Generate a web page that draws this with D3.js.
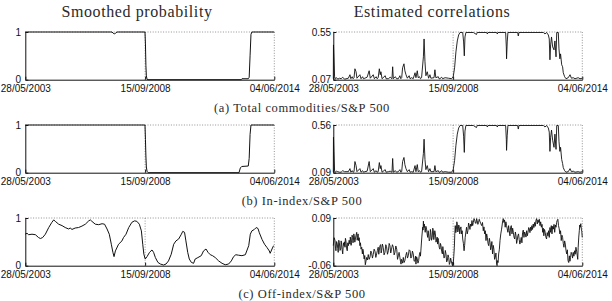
<!DOCTYPE html>
<html>
<head>
<meta charset="utf-8">
<script src="https://cdn.jsdelivr.net/npm/d3@7"></script>
<style>
  body { margin: 0; background: #fff; }
  svg { display: block; }
  .tick text { font-family: "Liberation Sans", Arial, sans-serif; font-size: 10px; fill: #111; }
  .serif { font-family: "Liberation Serif", "Times New Roman", serif; fill: #2a2a2a; }
</style>
</head>
<body>
<div id="chart"></div>
<script>
// ---- data ----
const DATE_TICKS = [2003.403, 2008.705, 2014.422];
const DATE_LABELS = ["28/05/2003", "15/09/2008", "04/06/2014"];

const COLUMN_TITLES = ["Smoothed probability", "Estimated correlations"];
const CAPTIONS = ["(a) Total commodities/S&P 500", "(b) In-index/S&P 500", "(c) Off-index/S&P 500"];

const PROB_TICKS = [0, 1];
const PROB_LABELS = ["0", "1"];
const CORR_TICKS_A = [0.07, 0.55];
const CORR_LABELS_A = ["0.07", "0.55"];
const CORR_TICKS_B = [0.09, 0.56];
const CORR_LABELS_B = ["0.09", "0.56"];
const CORR_TICKS_C = [-0.06, 0.09];
const CORR_LABELS_C = ["-0.06", "0.09"];

// [decimal year, value]
const PROB_TOTAL = [
  [2003.40,1],[2007.24,1],[2007.29,0.975],[2007.34,0.962],[2007.40,0.975],[2007.46,1],
  [2008.70,1],[2008.72,0.75],[2008.74,0.3],[2008.76,0.08],[2008.79,0.01],[2008.83,0],
  [2012.96,0],[2012.99,0.02],[2013.27,0.02],[2013.31,0.05],[2013.35,0.5],[2013.39,0.95],[2013.43,1],[2014.42,1]
];

const PROB_IN = [
  [2003.40,1],[2008.70,1],[2008.72,0.7],[2008.74,0.35],[2008.76,0.12],[2008.79,0.03],[2008.84,0],
  [2012.86,0],[2012.92,0.1],[2012.98,0.13],[2013.27,0.14],[2013.31,0.3],[2013.35,0.8],[2013.39,1],[2014.42,1]
];

const PROB_OFF = [
  [2003.40,0.66],[2003.48,0.68],[2003.55,0.65],[2003.70,0.66],[2003.85,0.65],[2003.99,0.59],[2004.07,0.57],
  [2004.17,0.59],[2004.29,0.66],[2004.44,0.80],[2004.58,0.91],[2004.66,0.96],[2004.73,0.93],[2004.88,0.87],
  [2005.03,0.84],[2005.17,0.80],[2005.32,0.77],[2005.39,0.79],[2005.47,0.76],[2005.61,0.79],[2005.76,0.80],
  [2005.91,0.83],[2006.06,0.87],[2006.21,0.94],[2006.28,0.96],[2006.35,0.93],[2006.50,0.87],[2006.65,0.86],
  [2006.80,0.88],[2006.91,0.87],[2007.02,0.77],[2007.12,0.66],[2007.21,0.45],[2007.28,0.28],[2007.33,0.19],
  [2007.39,0.31],[2007.53,0.45],[2007.68,0.52],[2007.75,0.59],[2007.86,0.66],[2007.98,0.80],[2008.12,0.91],
  [2008.24,0.94],[2008.34,0.93],[2008.45,0.87],[2008.54,0.73],[2008.60,0.45],[2008.65,0.24],[2008.71,0.14],
  [2008.79,0.19],[2008.90,0.28],[2009.01,0.33],[2009.08,0.28],[2009.16,0.17],[2009.27,0.07],[2009.38,0.035],
  [2009.52,0.015],[2009.63,0.035],[2009.74,0.10],[2009.86,0.24],[2009.97,0.45],[2010.07,0.52],[2010.19,0.56],
  [2010.31,0.66],[2010.37,0.72],[2010.45,0.70],[2010.51,0.52],[2010.59,0.28],[2010.66,0.14],[2010.75,0.07],
  [2010.85,0.05],[2010.92,0.14],[2011.04,0.17],[2011.19,0.21],[2011.29,0.31],[2011.40,0.35],[2011.49,0.28],
  [2011.59,0.23],[2011.69,0.21],[2011.81,0.17],[2011.96,0.10],[2012.11,0.05],[2012.25,0.02],[2012.40,0.035],
  [2012.52,0.10],[2012.62,0.19],[2012.72,0.23],[2012.84,0.22],[2012.99,0.21],[2013.14,0.23],[2013.29,0.42],
  [2013.36,0.66],[2013.43,0.73],[2013.54,0.76],[2013.62,0.80],[2013.70,0.78],[2013.76,0.69],[2013.88,0.55],
  [2013.99,0.45],[2014.10,0.38],[2014.20,0.31],[2014.24,0.26],[2014.32,0.35],[2014.39,0.42]
];

const CORR_TOTAL = [
  [2003.40,0.08],[2003.41,0.42],[2003.43,0.30],[2003.46,0.10],[2003.50,0.08],[2003.55,0.09],[2003.60,0.075],
  [2003.68,0.085],[2003.75,0.08],[2003.82,0.095],[2003.90,0.075],[2004.07,0.085],[2004.14,0.12],[2004.18,0.08],
  [2004.24,0.10],[2004.28,0.08],[2004.32,0.09],[2004.36,0.18],[2004.41,0.15],[2004.45,0.085],[2004.58,0.12],
  [2004.63,0.08],[2004.70,0.10],[2004.74,0.08],[2004.80,0.085],[2004.90,0.095],[2004.99,0.16],[2005.04,0.085],
  [2005.17,0.12],[2005.22,0.08],[2005.30,0.10],[2005.34,0.08],[2005.39,0.09],[2005.44,0.18],[2005.48,0.12],
  [2005.51,0.15],[2005.56,0.08],[2005.70,0.11],[2005.74,0.08],[2005.84,0.08],[2005.92,0.095],[2006.00,0.08],
  [2006.03,0.20],[2006.06,0.08],[2006.15,0.10],[2006.20,0.08],[2006.28,0.08],[2006.35,0.11],[2006.39,0.08],
  [2006.43,0.09],[2006.47,0.19],[2006.53,0.23],[2006.57,0.16],[2006.62,0.12],[2006.68,0.085],[2006.76,0.11],
  [2006.80,0.08],[2006.87,0.09],[2006.94,0.08],[2007.02,0.14],[2007.06,0.09],[2007.12,0.16],[2007.16,0.09],
  [2007.22,0.10],[2007.26,0.08],[2007.31,0.09],[2007.39,0.30],[2007.42,0.48],[2007.46,0.25],[2007.50,0.11],
  [2007.56,0.15],[2007.62,0.085],[2007.68,0.12],[2007.72,0.085],[2007.86,0.09],[2007.90,0.17],[2007.94,0.09],
  [2008.05,0.10],[2008.08,0.08],[2008.12,0.08],[2008.20,0.095],[2008.24,0.08],[2008.35,0.09],[2008.50,0.085],
  [2008.64,0.08],[2008.71,0.10],[2008.77,0.19],[2008.83,0.35],[2008.89,0.46],[2008.95,0.52],[2009.01,0.545],
  [2009.13,0.545],[2009.17,0.45],[2009.20,0.31],[2009.23,0.50],[2009.27,0.545],[2009.60,0.545],[2009.74,0.525],
  [2009.77,0.545],[2010.19,0.545],[2010.22,0.53],[2010.25,0.545],[2010.63,0.545],[2010.66,0.53],[2010.69,0.545],
  [2011.03,0.545],[2011.06,0.40],[2011.07,0.28],[2011.10,0.45],[2011.13,0.545],[2011.56,0.545],[2011.59,0.51],
  [2011.62,0.545],[2012.70,0.545],[2012.77,0.53],[2012.84,0.545],[2012.92,0.52],[2012.96,0.48],[2012.99,0.27],
  [2013.02,0.42],[2013.06,0.50],[2013.11,0.40],[2013.17,0.37],[2013.21,0.46],[2013.26,0.30],[2013.29,0.545],
  [2013.36,0.545],[2013.39,0.38],[2013.43,0.28],[2013.46,0.33],[2013.51,0.22],[2013.55,0.20],[2013.58,0.14],
  [2013.64,0.10],[2013.70,0.08],[2013.80,0.09],[2013.88,0.12],[2013.94,0.085],[2014.02,0.09],[2014.10,0.08],
  [2014.24,0.09],[2014.32,0.08],[2014.42,0.085]
];

const CORR_IN = [
  [2003.40,0.095],[2003.41,0.44],[2003.43,0.30],[2003.46,0.11],[2003.50,0.095],[2003.55,0.105],[2003.60,0.10],
  [2003.68,0.095],[2003.75,0.095],[2003.82,0.11],[2003.90,0.10],[2004.07,0.10],[2004.14,0.13],[2004.18,0.095],
  [2004.24,0.11],[2004.28,0.095],[2004.32,0.10],[2004.36,0.20],[2004.41,0.16],[2004.45,0.10],[2004.58,0.13],
  [2004.63,0.095],[2004.70,0.11],[2004.74,0.095],[2004.80,0.10],[2004.90,0.105],[2004.99,0.20],[2005.04,0.10],
  [2005.17,0.13],[2005.22,0.095],[2005.30,0.11],[2005.34,0.095],[2005.39,0.10],[2005.44,0.19],[2005.48,0.13],
  [2005.51,0.16],[2005.56,0.095],[2005.70,0.12],[2005.74,0.095],[2005.84,0.10],[2005.92,0.105],[2006.00,0.095],
  [2006.03,0.23],[2006.06,0.095],[2006.15,0.11],[2006.20,0.095],[2006.28,0.10],[2006.35,0.12],[2006.39,0.095],
  [2006.43,0.10],[2006.47,0.20],[2006.53,0.24],[2006.57,0.17],[2006.62,0.13],[2006.68,0.10],[2006.76,0.12],
  [2006.80,0.095],[2006.87,0.10],[2006.94,0.095],[2007.02,0.16],[2007.06,0.10],[2007.12,0.17],[2007.16,0.10],
  [2007.22,0.11],[2007.26,0.095],[2007.31,0.10],[2007.39,0.28],[2007.42,0.42],[2007.46,0.22],[2007.50,0.12],
  [2007.56,0.16],[2007.62,0.10],[2007.68,0.13],[2007.72,0.10],[2007.86,0.10],[2007.90,0.16],[2007.94,0.10],
  [2008.05,0.11],[2008.08,0.095],[2008.12,0.095],[2008.20,0.11],[2008.24,0.095],[2008.35,0.10],[2008.50,0.095],
  [2008.64,0.095],[2008.71,0.12],[2008.77,0.21],[2008.83,0.36],[2008.89,0.47],[2008.95,0.53],[2009.01,0.555],
  [2009.13,0.555],[2009.17,0.45],[2009.20,0.29],[2009.23,0.50],[2009.27,0.555],[2009.60,0.555],[2009.74,0.535],
  [2009.77,0.555],[2010.19,0.555],[2010.22,0.54],[2010.25,0.555],[2010.63,0.555],[2010.66,0.54],[2010.69,0.555],
  [2011.03,0.555],[2011.06,0.42],[2011.07,0.31],[2011.10,0.46],[2011.13,0.555],[2011.56,0.555],[2011.59,0.52],
  [2011.62,0.555],[2012.70,0.555],[2012.77,0.54],[2012.84,0.555],[2012.92,0.53],[2012.96,0.49],[2012.99,0.30],
  [2013.02,0.44],[2013.06,0.51],[2013.11,0.41],[2013.17,0.34],[2013.21,0.47],[2013.26,0.32],[2013.29,0.555],
  [2013.36,0.555],[2013.39,0.40],[2013.43,0.30],[2013.46,0.34],[2013.51,0.22],[2013.55,0.18],[2013.58,0.14],
  [2013.64,0.11],[2013.70,0.095],[2013.80,0.10],[2013.88,0.13],[2013.94,0.10],[2014.02,0.105],[2014.10,0.095],
  [2014.24,0.10],[2014.32,0.095],[2014.42,0.10]
];

const CORR_OFF = [
  [2003.40,0.003],[2003.44,0.028],[2003.48,0.019],[2003.50,-0.005],[2003.52,-0.013],[2003.55,0.016],
  [2003.58,0.008],[2003.60,-0.006],[2003.62,-0.018],[2003.645,0.020],[2003.67,0.013],[2003.70,-0.012],
  [2003.73,-0.008],[2003.75,0.018],[2003.77,0.008],[2003.795,-0.010],[2003.82,-0.023],[2003.85,0.012],
  [2003.88,0.003],[2003.90,0.015],[2003.92,-0.002],[2003.94,0.026],[2003.96,0.019],[2003.99,-0.004],
  [2004.02,-0.013],[2004.045,0.012],[2004.07,0.003],[2004.105,0.020],[2004.14,0.008],[2004.155,0.030],
  [2004.17,0.024],[2004.19,0.004],[2004.21,0.013],[2004.235,0.036],[2004.26,0.029],[2004.275,0.012],
  [2004.29,0.019],[2004.31,0.040],[2004.33,0.034],[2004.355,0.014],[2004.38,0.024],[2004.41,0.036],
  [2004.44,0.045],[2004.46,0.020],[2004.48,0.029],[2004.50,0.040],[2004.52,0.019],[2004.55,0.028],
  [2004.58,0.003],[2004.605,0.012],[2004.63,-0.008],[2004.66,-0.002],[2004.69,-0.023],[2004.71,-0.008],
  [2004.73,-0.013],[2004.75,-0.030],[2004.77,-0.039],[2004.795,-0.028],[2004.82,-0.057],[2004.85,-0.046],
  [2004.88,-0.034],[2004.915,-0.042],[2004.95,-0.025],[2004.99,-0.040],[2005.03,-0.032],[2005.065,-0.014],
  [2005.10,-0.021],[2005.135,-0.036],[2005.17,-0.025],[2005.21,-0.008],[2005.25,-0.015],[2005.285,-0.034],
  [2005.32,-0.023],[2005.355,-0.012],[2005.39,-0.002],[2005.415,-0.024],[2005.44,-0.011],[2005.47,0.004],
  [2005.50,0.006],[2005.52,-0.020],[2005.54,-0.013],[2005.575,0.008],[2005.61,-0.002],[2005.65,-0.026],
  [2005.69,-0.018],[2005.725,0.006],[2005.76,0.000],[2005.80,-0.024],[2005.84,-0.013],[2005.875,0.010],
  [2005.91,0.003],[2005.945,-0.020],[2005.98,-0.008],[2006.02,0.006],[2006.06,-0.002],[2006.095,-0.026],
  [2006.13,-0.018],[2006.17,0.002],[2006.21,-0.008],[2006.245,-0.040],[2006.28,-0.029],[2006.315,-0.018],
  [2006.35,-0.034],[2006.375,-0.046],[2006.40,-0.055],[2006.42,-0.040],[2006.44,-0.044],[2006.47,-0.052],
  [2006.50,-0.034],[2006.535,-0.050],[2006.57,-0.044],[2006.61,-0.028],[2006.65,-0.018],[2006.685,-0.036],
  [2006.72,-0.029],[2006.76,-0.010],[2006.80,-0.013],[2006.835,-0.036],[2006.87,-0.032],[2006.905,-0.014],
  [2006.94,-0.023],[2006.98,-0.046],[2007.02,-0.044],[2007.04,-0.030],[2007.06,-0.055],[2007.09,-0.032],
  [2007.12,-0.039],[2007.15,-0.052],[2007.18,-0.044],[2007.21,-0.026],[2007.24,-0.018],[2007.26,-0.030],
  [2007.28,-0.011],[2007.32,0.030],[2007.36,0.061],[2007.375,0.052],[2007.39,0.080],[2007.41,0.060],
  [2007.43,0.071],[2007.45,0.058],[2007.47,0.045],[2007.50,0.064],[2007.53,0.055],[2007.555,0.040],
  [2007.58,0.029],[2007.60,0.050],[2007.62,0.040],[2007.65,0.018],[2007.68,0.024],[2007.70,0.054],
  [2007.72,0.045],[2007.75,0.020],[2007.78,0.029],[2007.805,0.058],[2007.83,0.050],[2007.85,0.022],
  [2007.87,0.034],[2007.895,0.050],[2007.92,0.040],[2007.95,0.014],[2007.98,0.024],[2008.00,0.030],
  [2008.02,0.008],[2008.04,0.026],[2008.06,0.019],[2008.09,-0.002],[2008.12,-0.008],[2008.145,0.010],
  [2008.17,0.003],[2008.20,-0.016],[2008.23,-0.023],[2008.25,0.000],[2008.27,-0.013],[2008.30,-0.036],
  [2008.33,-0.034],[2008.36,-0.012],[2008.39,-0.023],[2008.42,-0.048],[2008.45,-0.044],[2008.48,-0.026],
  [2008.51,-0.034],[2008.54,-0.056],[2008.57,-0.050],[2008.595,-0.036],[2008.62,-0.044],[2008.65,-0.054],
  [2008.68,-0.060],[2008.695,-0.048],[2008.71,-0.055],[2008.735,-0.030],[2008.76,-0.002],[2008.78,0.040],
  [2008.80,0.066],[2008.825,0.044],[2008.85,0.055],[2008.87,0.078],[2008.89,0.071],[2008.91,0.046],
  [2008.93,0.050],[2008.955,0.068],[2008.98,0.061],[2009.00,0.040],[2009.02,0.055],[2009.05,0.062],
  [2009.08,0.040],[2009.105,0.050],[2009.13,0.024],[2009.16,0.010],[2009.19,-0.013],[2009.215,0.004],
  [2009.24,0.029],[2009.27,0.046],[2009.30,0.061],[2009.33,0.040],[2009.36,0.050],[2009.39,0.074],
  [2009.42,0.066],[2009.45,0.054],[2009.48,0.071],[2009.51,0.064],[2009.54,0.082],[2009.57,0.066],
  [2009.60,0.076],[2009.63,0.088],[2009.66,0.084],[2009.69,0.074],[2009.72,0.073],[2009.745,0.088],
  [2009.77,0.082],[2009.80,0.070],[2009.83,0.076],[2009.86,0.086],[2009.89,0.080],[2009.93,0.072],
  [2009.97,0.066],[2010.005,0.076],[2010.04,0.050],[2010.07,0.062],[2010.10,0.040],[2010.13,0.050],
  [2010.16,0.019],[2010.19,0.040],[2010.22,0.029],[2010.25,0.010],[2010.28,0.003],[2010.31,0.026],
  [2010.34,0.013],[2010.365,-0.010],[2010.39,-0.002],[2010.42,0.016],[2010.45,-0.023],[2010.48,0.004],
  [2010.51,-0.008],[2010.54,-0.040],[2010.57,-0.034],[2010.60,-0.020],[2010.63,-0.055],[2010.65,-0.060],
  [2010.67,-0.044],[2010.695,-0.050],[2010.72,-0.023],[2010.75,-0.010],[2010.78,0.019],[2010.815,0.040],
  [2010.85,0.055],[2010.875,0.068],[2010.90,0.082],[2010.925,0.088],[2010.95,0.076],[2010.98,0.084],
  [2011.01,0.061],[2011.04,0.078],[2011.07,0.066],[2011.10,0.056],[2011.13,0.045],[2011.16,0.066],
  [2011.19,0.050],[2011.22,0.034],[2011.25,0.061],[2011.28,0.066],[2011.31,0.040],[2011.34,0.058],
  [2011.37,0.045],[2011.40,0.030],[2011.43,0.024],[2011.46,0.046],[2011.49,0.034],[2011.515,0.010],
  [2011.54,0.019],[2011.57,0.034],[2011.60,0.040],[2011.63,0.022],[2011.66,0.008],[2011.69,0.018],
  [2011.72,0.029],[2011.75,0.012],[2011.78,0.045],[2011.81,0.052],[2011.84,0.029],[2011.87,0.046],
  [2011.90,0.040],[2011.93,0.030],[2011.96,0.050],[2011.99,0.034],[2012.02,0.045],[2012.05,0.060],
  [2012.08,0.055],[2012.105,0.044],[2012.13,0.061],[2012.16,0.050],[2012.19,0.066],[2012.22,0.054],
  [2012.25,0.071],[2012.28,0.060],[2012.31,0.076],[2012.34,0.064],[2012.37,0.082],[2012.40,0.088],
  [2012.43,0.071],[2012.46,0.084],[2012.49,0.076],[2012.52,0.086],[2012.55,0.066],[2012.58,0.078],
  [2012.61,0.061],[2012.64,0.070],[2012.67,0.045],[2012.695,0.058],[2012.72,0.034],[2012.75,0.054],
  [2012.78,0.045],[2012.81,0.030],[2012.84,0.024],[2012.87,0.044],[2012.90,0.034],[2012.93,0.050],
  [2012.96,0.029],[2012.99,0.060],[2013.02,0.045],[2013.05,0.066],[2013.08,0.040],[2013.11,0.064],
  [2013.14,0.055],[2013.17,0.070],[2013.20,0.045],[2013.23,0.068],[2013.26,0.061],[2013.285,0.076],
  [2013.31,0.082],[2013.34,0.086],[2013.37,0.066],[2013.40,0.056],[2013.43,0.040],[2013.46,0.050],
  [2013.49,0.019],[2013.52,0.036],[2013.55,0.029],[2013.58,0.010],[2013.61,-0.002],[2013.64,0.018],
  [2013.67,0.008],[2013.70,-0.012],[2013.73,-0.023],[2013.76,-0.010],[2013.79,-0.044],[2013.82,-0.050],
  [2013.85,-0.029],[2013.875,-0.046],[2013.90,-0.034],[2013.93,-0.018],[2013.96,-0.023],[2013.99,-0.036],
  [2014.02,-0.018],[2014.05,-0.030],[2014.08,-0.013],[2014.11,-0.024],[2014.14,-0.002],[2014.17,-0.014],
  [2014.20,-0.029],[2014.22,-0.040],[2014.24,-0.002],[2014.265,0.030],[2014.29,0.050],[2014.31,0.068],
  [2014.33,0.061],[2014.355,0.072],[2014.38,0.055],[2014.40,0.048],[2014.42,0.029]
];

// ---- layout ----
const WIDTH = 612, HEIGHT = 301;
const COL_X = [25.3, 333.3];
const ROW_Y = [32, 125, 218];
const PLOT_W = 249, PLOT_H = 47.7;
const Y_LABEL_PAD = [4.3, 2.2];

const PANELS = [
  {row: 0, col: 0, data: PROB_TOTAL, ticks: PROB_TICKS, labels: PROB_LABELS},
  {row: 0, col: 1, data: CORR_TOTAL, ticks: CORR_TICKS_A, labels: CORR_LABELS_A},
  {row: 1, col: 0, data: PROB_IN, ticks: PROB_TICKS, labels: PROB_LABELS},
  {row: 1, col: 1, data: CORR_IN, ticks: CORR_TICKS_B, labels: CORR_LABELS_B},
  {row: 2, col: 0, data: PROB_OFF, ticks: PROB_TICKS, labels: PROB_LABELS},
  {row: 2, col: 1, data: CORR_OFF, ticks: CORR_TICKS_C, labels: CORR_LABELS_C}
];

const svg = d3.select("#chart")
  .append("svg")
    .attr("width", WIDTH)
    .attr("height", HEIGHT);

svg.append("defs").append("clipPath")
    .attr("id", "plotclip")
  .append("rect")
    .attr("x", -1).attr("y", -1)
    .attr("width", PLOT_W + 2).attr("height", PLOT_H + 2);

const x = d3.scaleLinear()
  .domain([DATE_TICKS[0], DATE_TICKS[DATE_TICKS.length - 1]])
  .range([0, PLOT_W]);

PANELS.forEach(function(p) {
  const g = svg.append("g")
    .attr("transform", "translate(" + COL_X[p.col] + "," + ROW_Y[p.row] + ")");

  const y = d3.scaleLinear()
    .domain(p.ticks)
    .range([PLOT_H, 0]);

  // dotted grid (inner/right x ticks and top y tick)
  g.selectAll(".vgrid")
    .data(DATE_TICKS.slice(1))
    .enter()
    .append("line")
      .attr("x1", d => x(d)).attr("x2", d => x(d))
      .attr("y1", 0).attr("y2", PLOT_H)
      .attr("stroke", "#777")
      .attr("stroke-width", 0.8)
      .attr("stroke-dasharray", "1,1.6");

  g.append("line")
    .attr("x1", 0).attr("x2", PLOT_W)
    .attr("y1", y(p.ticks[1])).attr("y2", y(p.ticks[1]))
    .attr("stroke", "#777")
    .attr("stroke-width", 0.8)
    .attr("stroke-dasharray", "1,1.6");

  // series
  g.append("path")
    .datum(p.data)
    .attr("clip-path", "url(#plotclip)")
    .attr("fill", "none")
    .attr("stroke", "#111")
    .attr("stroke-width", p.col === 1 ? 0.9 : 1)
    .attr("stroke-linejoin", "round")
    .attr("d", d3.line().x(d => x(d[0])).y(d => y(d[1])));

  // axes
  const xAxis = g.append("g")
    .attr("transform", "translate(0," + PLOT_H + ")")
    .call(d3.axisBottom(x)
      .tickValues(DATE_TICKS)
      .tickFormat((d, i) => DATE_LABELS[i])
      .tickSizeInner(-3)
      .tickSizeOuter(0)
      .tickPadding(5.2));

  const yAxis = g.append("g")
    .call(d3.axisLeft(y)
      .tickValues(p.ticks)
      .tickFormat((d, i) => p.labels[i])
      .tickSizeInner(-3)
      .tickSizeOuter(0)
      .tickPadding(Y_LABEL_PAD[p.col]));

  [xAxis, yAxis].forEach(function(a) {
    a.attr("font-family", null).attr("font-size", null);
    a.select(".domain").attr("stroke", "#111").attr("stroke-width", 1);
    a.selectAll(".tick line").attr("stroke", "#111");
  });
});

// column titles
svg.selectAll(".coltitle")
  .data(COLUMN_TITLES)
  .enter()
  .append("text")
    .attr("class", "serif")
    .attr("x", (d, i) => [137, 432][i])
    .attr("y", 17)
    .attr("text-anchor", "middle")
    .attr("font-size", "16px")
    .attr("letter-spacing", "0.6px")
    .text(d => d);

// sub-captions
svg.selectAll(".caption")
  .data(CAPTIONS)
  .enter()
  .append("text")
    .attr("class", "serif")
    .attr("x", 302)
    .attr("y", (d, i) => ROW_Y[i] + 79.5)
    .attr("text-anchor", "middle")
    .attr("font-size", "12.5px")
    .attr("letter-spacing", "0.6px")
    .text(d => d);
</script>
</body>
</html>
